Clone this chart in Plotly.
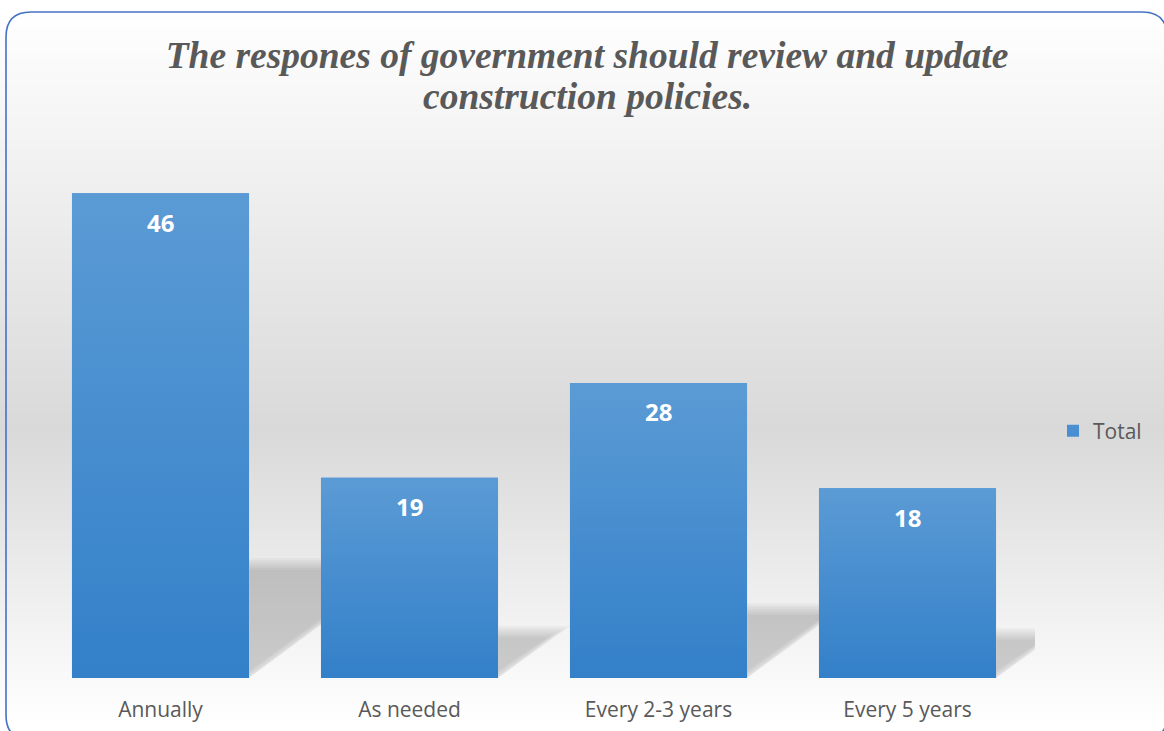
import plotly.graph_objects as go

# ---- data -------------------------------------------------------------
categories = ["Annually", "As needed", "Every 2-3 years", "Every 5 years"]
totals = [46, 19, 28, 18]
series_name = "Total"
title_lines = ["The respones of government should review and update",
               "construction policies."]

# ---- geometry of the figure (pixels) ------------------------------------
W, H = 1164, 731
PL, PR, PT, PB = 36, 1035, 151, 678          # plot-area edges
X_RANGE = [-0.5, 3.5 + 3 / 249]
Y_RANGE = [0, 50]
BAR_W = 0.711
HALF = BAR_W / 2
UX = (PR - PL) / (X_RANGE[1] - X_RANGE[0])   # px per x unit
UY = (PB - PT) / (Y_RANGE[1] - Y_RANGE[0])   # px per y unit

TEXT = "#595959"
BAR_TOP, BAR_BOTTOM = "#5b9bd5", "#3380c9"
TITLE_FONT = dict(family="Liberation Serif", size=37.5, color=TEXT)


def px_x(px):
    return (px - PL) / (PR - PL)


def px_y(py):
    return (PB - py) / (PB - PT)


def bg_level(py):
    stops = [(12, 255), (430, 217), (722, 255)]
    if py <= stops[0][0]:
        return stops[0][1]
    for (a, va), (b, vb) in zip(stops, stops[1:]):
        if py <= b:
            return va + (vb - va) * (py - a) / (b - a)
    return stops[-1][1]


shapes = []

# soft vertical gradient behind the chart
step = 4
for py in range(0, H, step):
    g = int(round(bg_level(py + step / 2)))
    shapes.append(dict(type="rect", xref="paper", yref="paper",
                       x0=px_x(-2), x1=px_x(W + 2), y0=px_y(py + step), y1=px_y(py),
                       fillcolor=f"rgb({g},{g},{g})", line=dict(width=0), layer="below"))

# perspective shadows falling to the right of each bar
for i, v in enumerate(totals):
    right = i + HALF
    h = 0.237 * v
    dx = (h * UY / 0.75) / UX
    for s in range(-5, 8, 2):
        sy = s / UY
        sx = 2 * s / UX
        top = h - sy
        path = (f"M{right},{max(sy, 0)} L{right},{top} "
                f"L{right + dx - sx},{top} Z")
        shapes.append(dict(type="path", xref="x", yref="y", path=path,
                           fillcolor="black", opacity=0.028,
                           line=dict(width=0), layer="below"))

# rounded chart border
r = 25
bx0, by0, bx1, by1 = 6, 12, 1167, 740
p = (f"M{px_x(bx0 + r)},{px_y(by0)} L{px_x(bx1 - r)},{px_y(by0)} "
     f"Q{px_x(bx1)},{px_y(by0)} {px_x(bx1)},{px_y(by0 + r)} "
     f"L{px_x(bx1)},{px_y(by1 - r)} "
     f"Q{px_x(bx1)},{px_y(by1)} {px_x(bx1 - r)},{px_y(by1)} "
     f"L{px_x(bx0 + r)},{px_y(by1)} "
     f"Q{px_x(bx0)},{px_y(by1)} {px_x(bx0)},{px_y(by1 - r)} "
     f"L{px_x(bx0)},{px_y(by0 + r)} "
     f"Q{px_x(bx0)},{px_y(by0)} {px_x(bx0 + r)},{px_y(by0)} Z")
shapes.append(dict(type="path", xref="paper", yref="paper", path=p,
                   line=dict(color="#4472c4", width=1.6), fillcolor="rgba(0,0,0,0)",
                   layer="above"))

fig = go.Figure()

xs = list(range(len(categories)))
fig.add_trace(go.Bar(x=xs, y=totals, name=series_name, width=BAR_W,
                     marker=dict(color="#4a8fd2", line=dict(width=0)),
                     hoverinfo="skip"))

# vertical gradient fill on each bar
for i, v in zip(xs, totals):
    fig.add_trace(go.Scatter(
        x=[i - HALF, i + HALF, i + HALF, i - HALF, i - HALF],
        y=[0, 0, v, v, 0], mode="lines", fill="toself",
        fillgradient=dict(type="vertical",
                          colorscale=[[0, BAR_BOTTOM], [1, BAR_TOP]]),
        line=dict(width=0), showlegend=False, hoverinfo="skip"))

annotations = [dict(x=i, y=v, xref="x", yref="y", text=str(v), showarrow=False,
                    yanchor="middle", yshift=-29,
                    font=dict(family="Open Sans", size=24, color="white", weight="bold"))
               for i, v in zip(xs, totals)]

# second title line, set closer than the default line spacing
annotations.append(dict(text="<b><i>" + title_lines[1] + "</i></b>",
                        xref="paper", yref="paper", x=px_x(587), y=px_y(97),
                        xanchor="center", yanchor="middle", showarrow=False,
                        font=TITLE_FONT))

fig.update_layout(
    width=W, height=H,
    margin=dict(l=PL, r=W - PR, t=PT, b=H - PB, pad=0, autoexpand=False),
    paper_bgcolor="white", plot_bgcolor="rgba(0,0,0,0)",
    title=dict(text="<b><i>" + title_lines[0] + "</i></b>",
               x=587 / W, xanchor="center", xref="container",
               y=1 - 55 / H, yanchor="middle", yref="container",
               font=TITLE_FONT),
    xaxis=dict(range=X_RANGE, tickvals=xs, ticktext=categories, showgrid=False,
               zeroline=False, showline=False, ticks="", fixedrange=True,
               ticklabelstandoff=17, automargin=False,
               tickfont=dict(family="Open Sans", size=21, color=TEXT)),
    yaxis=dict(range=Y_RANGE, visible=False, fixedrange=True, automargin=False),
    showlegend=True,
    legend=dict(x=px_x(1053), y=px_y(431), xanchor="left", yanchor="middle",
                bgcolor="rgba(0,0,0,0)", itemwidth=30,
                font=dict(family="Open Sans", size=21, color=TEXT)),
    shapes=shapes,
    annotations=annotations,
)

fig.write_html("out.html")
